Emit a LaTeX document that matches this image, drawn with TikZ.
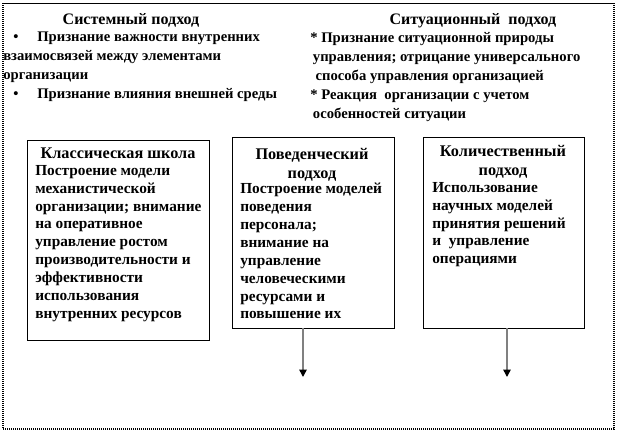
\documentclass[tikz,border=0pt]{standalone}
\usepackage{fontspec}
\setmainfont{Liberation Serif}
\usetikzlibrary{arrows.meta,positioning}
\tikzset{
  txt/.style = {inner sep=0pt, align=left,
    font=\bfseries\fontsize{11pt}{14.2pt}\selectfont},
  head/.style = {txt, align=center, font=\bfseries\fontsize{12pt}{14.2pt}\selectfont},
  boxtxt/.style = {txt, font=\bfseries\fontsize{11.5pt}{13.4pt}\selectfont},
  boxhead/.style = {boxtxt, align=center,
    font=\bfseries\fontsize{12.2pt}{14.4pt}\selectfont},
  appbox/.style = {draw=black, line width=0.6pt, inner sep=0pt},% блок подхода
  frame_s/.style = {draw=black, line width=0.7pt},% верхняя граница
  frame_d/.style = {draw=black, line width=1.1pt,
    dash pattern=on 0.75pt off 0.75pt},% пунктир рамки
  arr/.style = {draw=gray, line width=1.1pt,
    -{Triangle[black, width=5.5pt, length=5.5pt]}}
}
\begin{document}
\begin{tikzpicture}[x=0.75pt,y=-0.75pt]
        \useasboundingbox (0,0) rectangle (618,432);
        % рамка
        \draw[frame_s] (3,3) -- (613,3);
        \draw[frame_d] (3,3) -- (3,429) -- (614,429) -- (614,3);
        % системный и ситуационный подходы
        \node [head, anchor=north](sysH) at (131,13) {Системный подход};
        \node [txt, anchor=north west](sysT) at (3,32)
          {\makebox[25.5pt][l]{\hspace*{7.5pt}•}Признание важности внутренних\\
           взаимосвязей между элементами\\
           организации\\
           \makebox[25.5pt][l]{\hspace*{7.5pt}•}Признание влияния внешней среды};
        \node [head, anchor=north](sitH) at (473,13) {Ситуационный\ \ подход};
        \node [txt, anchor=north west](sitT) at (310,32)
          {* Признание ситуационной природы\\
           \hspace*{2pt}управления; отрицание универсального\\
           \hspace*{4pt}способа управления организацией\\
           * Реакция\ \ организации с учетом\\
           \hspace*{2pt}особенностей ситуации};
        % блоки
        \node [appbox, minimum width=136.5pt, minimum height=150pt](klass) at (118,240) {};
        \node [appbox, minimum width=121.5pt, minimum height=143.25pt](pov) at (313,232.5) {};
        \node [appbox, minimum width=120.75pt, minimum height=143.25pt](kol) at (503.5,232.5) {};
        \node [boxhead, anchor=north](klassH) at (118,148) {Классическая школа};
        \node [boxtxt, anchor=north west](klassT) at (35,165)
          {Построение модели\\
           механистической\\
           организации; внимание\\
           на оперативное\\
           управление ростом\\
           производительности и\\
           эффективности\\
           использования\\
           внутренних ресурсов};
        \node [boxhead, anchor=north](povH) at (312,148) {Поведенческий\\подход};
        \node [boxtxt, anchor=north west](povT) at (240,183)
          {Построение моделей\\
           поведения\\
           персонала;\\
           внимание на\\
           управление\\
           человеческими\\
           ресурсами и\\
           повышение их};
        \node [boxhead, anchor=north](kolH) at (503,145) {Количественный\\подход};
        \node [boxtxt, anchor=north west](kolT) at (432,182)
          {Использование\\
           научных моделей\\
           принятия решений\\
           и\ \ управление\\
           операциями};
        % стрелки
        \coordinate (p1) at (303,377);
        \coordinate (p2) at (507,377);
        \draw [arr] (pov.south -| p1) -- (p1);
        \draw [arr] (kol.south -| p2) -- (p2);
\end{tikzpicture}
\end{document}
